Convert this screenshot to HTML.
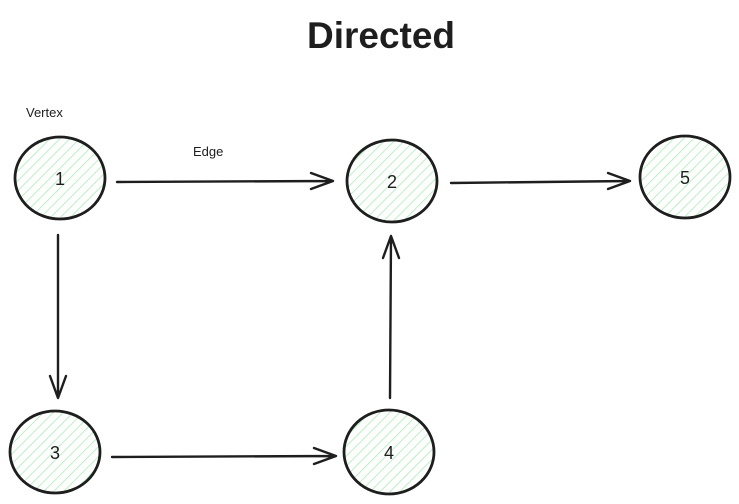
<!DOCTYPE html>
<html><head><meta charset="utf-8"><style>
html,body{margin:0;padding:0;background:#fff;width:739px;height:504px;overflow:hidden}
svg text{font-family:"Liberation Sans",sans-serif;fill:#1e1e1e}
</style></head><body>
<svg width="739" height="504" viewBox="0 0 739 504" xmlns="http://www.w3.org/2000/svg">
<defs>
<pattern id="h" patternUnits="userSpaceOnUse" width="7" height="7" patternTransform="rotate(45)">
<line x1="0" y1="0" x2="0" y2="7" stroke="#a8ecb2" stroke-width="1.5"/>
</pattern>
</defs>
<text x="381" y="48" font-size="37" font-weight="bold" text-anchor="middle">Directed</text>
<text x="26" y="117" font-size="13">Vertex</text>
<text x="193" y="156" font-size="13">Edge</text>
<g stroke="#1e1e1e" stroke-width="2.8" fill="url(#h)">
<ellipse cx="60" cy="178" rx="45" ry="41"/>
<ellipse cx="392" cy="181" rx="45" ry="41"/>
<ellipse cx="685" cy="177" rx="45" ry="41"/>
<ellipse cx="55" cy="452" rx="45" ry="41"/>
<ellipse cx="389" cy="452" rx="45" ry="42"/>
</g>
<g font-size="18" text-anchor="middle">
<text x="60" y="185">1</text>
<text x="392" y="188">2</text>
<text x="685" y="184">5</text>
<text x="55" y="459">3</text>
<text x="389" y="459">4</text>
</g>
<g stroke="#1e1e1e" stroke-width="2.4" fill="none" stroke-linecap="round" stroke-linejoin="round">
<path d="M117 182 L333 181 M311 173 L333 181 L311 189"/>
<path d="M451 183 L630 181 M608 173 L630 181 L608 189"/>
<path d="M58 235 L58 398 M50 376 L58 398 L66 376"/>
<path d="M112 457 L336 456 M314 448 L336 456 L314 464"/>
<path d="M390 398 L391 236 M383 258 L391 236 L399 258"/>
</g>
</svg>
</body></html>
